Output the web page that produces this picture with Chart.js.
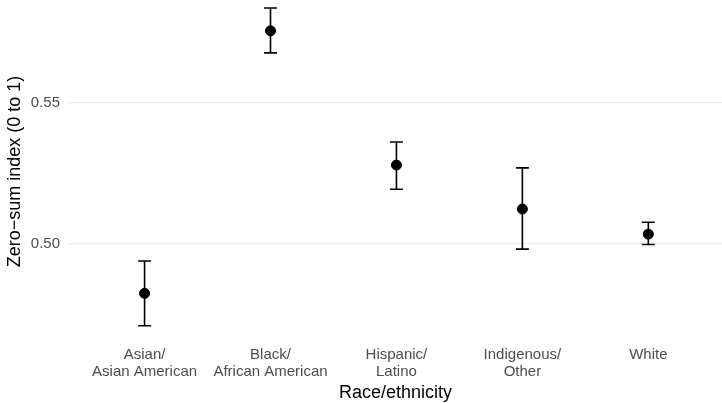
<!DOCTYPE html>
<html>
<head>
<meta charset="utf-8">
<script src="https://cdn.jsdelivr.net/npm/chart.js@4"></script>
<style>
  html, body { margin: 0; padding: 0; background: #fff; }
  #wrap { width: 722px; height: 403px; }
</style>
</head>
<body>
<div id="wrap"><canvas id="grafico"></canvas></div>
<script>
const categorias = [['Asian/', 'Asian American'], ['Black/', 'African American'], ['Hispanic/', 'Latino'], ['Indigenous/', 'Other'], ['White']];
const medias = [0.4825, 0.5756, 0.5280, 0.5124, 0.5035];
const inferior = [0.4710, 0.5678, 0.5194, 0.4982, 0.4998];
const superior = [0.4940, 0.5837, 0.5362, 0.5270, 0.5077];
const ticksY = [0.50, 0.55];

const fuente = 'Liberation Sans, Arial, sans-serif';

// barras de error dibujadas con las escalas del grafico
const barrasError = {
  id: 'barrasError',
  beforeDatasetsDraw(chart) {
    const ctx = chart.ctx;
    const x = chart.scales.x, y = chart.scales.y;
    ctx.save();
    ctx.strokeStyle = '#000';
    ctx.lineWidth = 1.6;
    for (let i = 0; i < medias.length; i++) {
      const px = x.getPixelForValue(i);
      const y1 = y.getPixelForValue(superior[i]);
      const y2 = y.getPixelForValue(inferior[i]);
      ctx.beginPath();
      ctx.moveTo(px, y1); ctx.lineTo(px, y2);
      ctx.moveTo(px - 6.5, y1); ctx.lineTo(px + 6.5, y1);
      ctx.moveTo(px - 6.5, y2); ctx.lineTo(px + 6.5, y2);
      ctx.stroke();
    }
    ctx.restore();
  }
};

new Chart(document.getElementById('grafico').getContext('2d'), {
  type: 'scatter',
  data: {
    datasets: [{
      data: medias.map((v, i) => ({ x: i, y: v })),
      backgroundColor: '#000',
      borderColor: '#000',
      pointRadius: 5,
      pointHoverRadius: 5,
      clip: false
    }]
  },
  options: {
    responsive: true,
    maintainAspectRatio: false,
    animation: false,
    layout: { padding: 0, autoPadding: false },
    plugins: { legend: { display: false }, tooltip: { enabled: false } },
    scales: {
      x: {
        type: 'linear',
        min: -0.6,
        max: 4.585,
        afterBuildTicks: s => { s.ticks = categorias.map((c, i) => ({ value: i })); },
        afterFit: s => { s.height = 60; },
        grid: { display: false, drawTicks: false },
        border: { display: false },
        ticks: {
          callback: (v) => categorias[v],
          color: '#4D4D4D',
          font: { family: fuente, size: 15, lineHeight: 1.13 },
          padding: 3.5,
          maxRotation: 0,
          autoSkip: false
        },
        title: {
          display: true,
          text: 'Race/ethnicity',
          color: '#000',
          font: { family: fuente, size: 18, lineHeight: 1.1 },
          padding: { top: 0, bottom: 0 }
        }
      },
      y: {
        min: 0.46489,
        max: 0.58652,
        afterBuildTicks: s => { s.ticks = ticksY.map(v => ({ value: v })); },
        afterFit: s => { s.width = 69; },
        grid: { color: '#EBEBEB', lineWidth: 1.2, drawTicks: true, tickLength: 9, tickColor: 'rgba(0,0,0,0)' },
        border: { display: false },
        ticks: {
          callback: v => v.toFixed(2),
          color: '#4D4D4D',
          font: { family: fuente, size: 15, lineHeight: 0.01 },
          padding: 0
        },
        title: {
          display: true,
          text: 'Zero\u2212sum index (0 to 1)',
          color: '#000',
          font: { family: fuente, size: 18, lineHeight: 1.2 },
          padding: { top: 4, bottom: 0 }
        }
      }
    }
  },
  plugins: [barrasError]
});
</script>
</body>
</html>
